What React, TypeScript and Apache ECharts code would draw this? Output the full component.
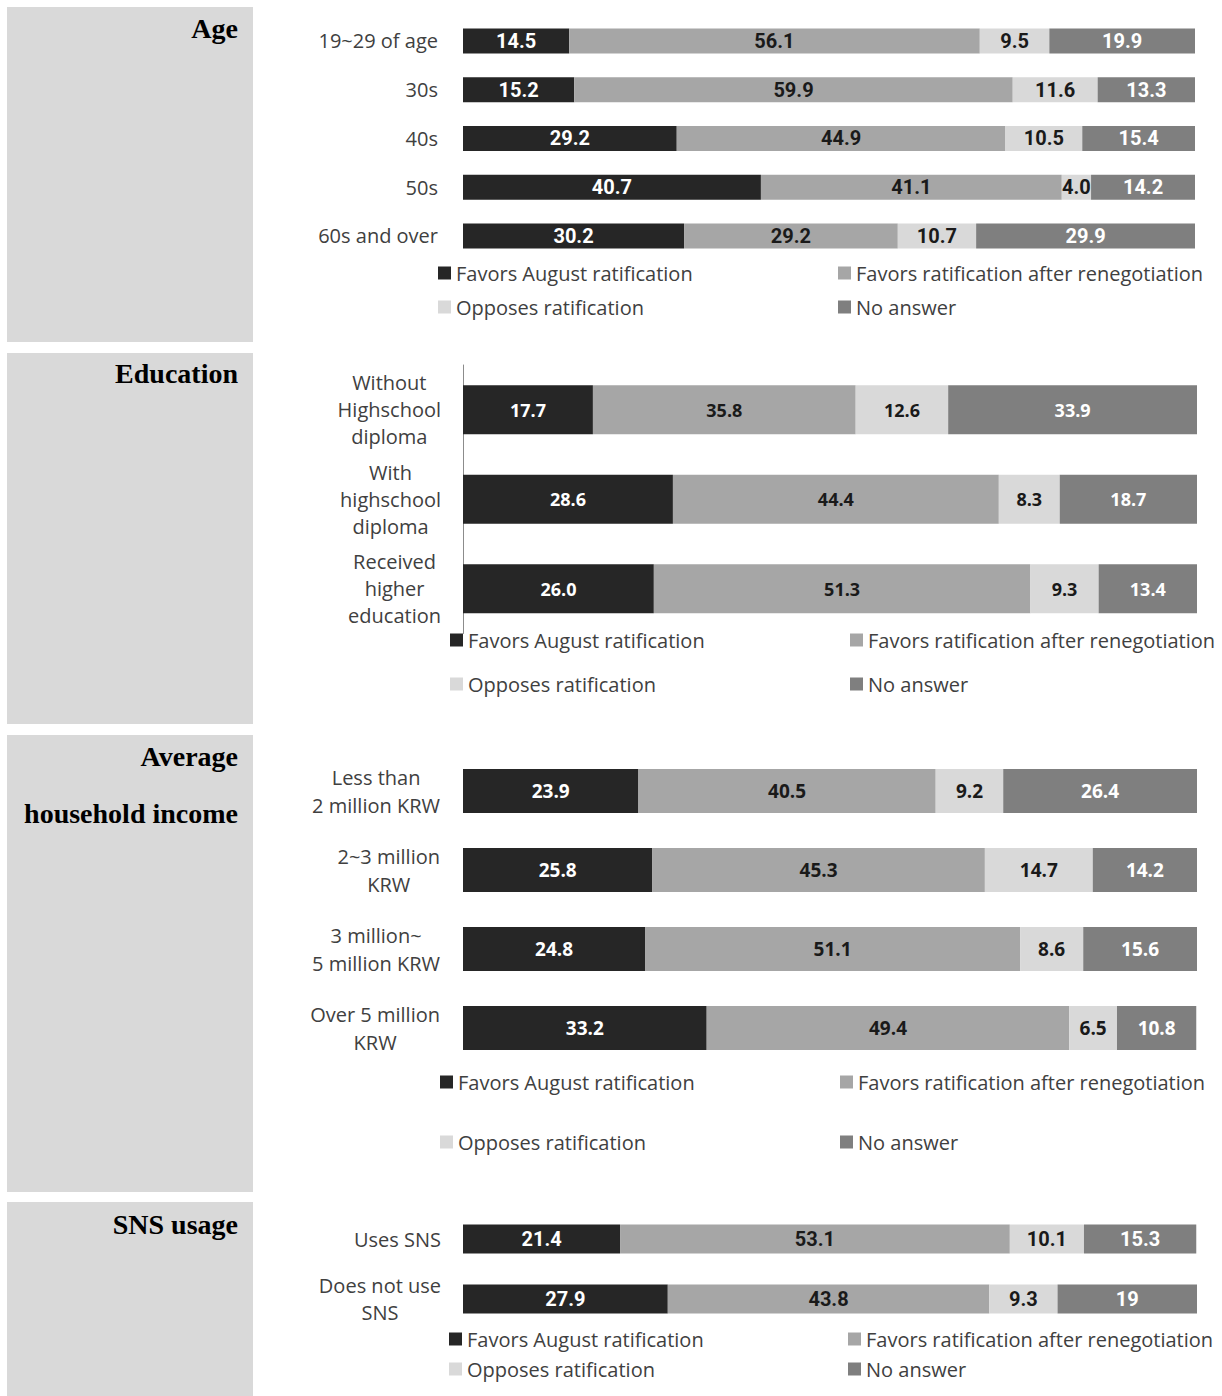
import React, { useEffect, useRef } from "react";
import * as echarts from "echarts";

const seriesNames = [
  "Favors August ratification",
  "Favors ratification after renegotiation",
  "Opposes ratification",
  "No answer",
];

const ageCats = ["19~29 of age", "30s", "40s", "50s", "60s and over"];
const ageFavAug = ["14.5", "15.2", "29.2", "40.7", "30.2"];
const ageFavReneg = ["56.1", "59.9", "44.9", "41.1", "29.2"];
const ageOpposes = ["9.5", "11.6", "10.5", "4.0", "10.7"];
const ageNoAnswer = ["19.9", "13.3", "15.4", "14.2", "29.9"];

const eduCats = ["Without\nHighschool\ndiploma", "With\nhighschool\ndiploma", "Received\nhigher\neducation"];
const eduFavAug = ["17.7", "28.6", "26.0"];
const eduFavReneg = ["35.8", "44.4", "51.3"];
const eduOpposes = ["12.6", "8.3", "9.3"];
const eduNoAnswer = ["33.9", "18.7", "13.4"];

const incCats = ["Less than\n2 million KRW", "2~3 million\nKRW", "3 million~\n5 million KRW", "Over 5 million\nKRW"];
const incFavAug = ["23.9", "25.8", "24.8", "33.2"];
const incFavReneg = ["40.5", "45.3", "51.1", "49.4"];
const incOpposes = ["9.2", "14.7", "8.6", "6.5"];
const incNoAnswer = ["26.4", "14.2", "15.6", "10.8"];

const snsCats = ["Uses SNS", "Does not use\nSNS"];
const snsFavAug = ["21.4", "27.9"];
const snsFavReneg = ["53.1", "43.8"];
const snsOpposes = ["10.1", "9.3"];
const snsNoAnswer = ["15.3", "19"];

const titles = ["Age", "Education", "Average\nhousehold income", "SNS usage"];

const COLORS = ["#262626", "#a6a6a6", "#d9d9d9", "#7f7f7f"];
const LABEL_COLORS = ["#ffffff", "#1a1a1a", "#1a1a1a", "#ffffff"];
const CAT_FONT = "'Open Sans', Lato, sans-serif";
const COND_FONT = "Roboto, 'Open Sans', sans-serif";
const BOLD_FONT = "'Open Sans', Lato, sans-serif";

const panels = [
  {
    cats: ageCats, sets: [ageFavAug, ageFavReneg, ageOpposes, ageNoAnswer],
    grid: { left: 463, width: 732, top: 16.6, height: 243.75 }, barWidth: 25,
    labelMargin: 25, catLine: 24, valFont: 20, valFamily: COND_FONT,
    legendX: [438, 838], legendY: [273, 307], axisLine: false,
    box: [7, 7, 246, 335], titleY: 28, titleLine: 30,
  },
  {
    cats: eduCats, sets: [eduFavAug, eduFavReneg, eduOpposes, eduNoAnswer],
    grid: { left: 463, width: 734, top: 365, height: 268.5 }, barWidth: 49,
    labelMargin: 22, catLine: 27, valFont: 18, valFamily: BOLD_FONT,
    legendX: [450, 850], legendY: [640, 684], axisLine: true,
    box: [7, 353, 246, 371], titleY: 373, titleLine: 30,
  },
  {
    cats: incCats, sets: [incFavAug, incFavReneg, incOpposes, incNoAnswer],
    grid: { left: 463, width: 734, top: 751.5, height: 316 }, barWidth: 44,
    labelMargin: 23, catLine: 28, valFont: 19, valFamily: BOLD_FONT,
    legendX: [440, 840], legendY: [1082, 1142], axisLine: false,
    box: [7, 735, 246, 457], titleY: 756, titleLine: 57,
  },
  {
    cats: snsCats, sets: [snsFavAug, snsFavReneg, snsOpposes, snsNoAnswer],
    grid: { left: 463, width: 734, top: 1209, height: 120 }, barWidth: 29,
    labelMargin: 22, catLine: 27, valFont: 20, valFamily: COND_FONT,
    legendX: [449, 848], legendY: [1339, 1369], axisLine: false,
    box: [7, 1202, 246, 194], titleY: 1224, titleLine: 30,
  },
];

function buildOption() {
  const grid: any[] = [];
  const xAxis: any[] = [];
  const yAxis: any[] = [];
  const series: any[] = [];
  const legend: any[] = [];
  const graphic: any[] = [];

  panels.forEach((p, pi) => {
    graphic.push({
      type: "rect", z: -10,
      shape: { x: p.box[0], y: p.box[1], width: p.box[2], height: p.box[3] },
      style: { fill: "#d9d9d9" },
    });
    titles[pi].split("\n").forEach((line, li) => {
      graphic.push({
        type: "text", z: 10,
        x: 238, y: p.titleY + li * p.titleLine,
        style: {
          text: line, align: "right", verticalAlign: "middle",
          font: "bold 28px 'Liberation Serif', 'DejaVu Serif', serif",
          fill: "#000000",
        },
      });
    });

    grid.push({ ...p.grid, containLabel: false });
    xAxis.push({
      type: "value", gridIndex: pi, min: 0, max: 100,
      show: false, splitLine: { show: false },
    });
    yAxis.push({
      type: "category", gridIndex: pi, inverse: true, data: p.cats,
      axisLine: { show: p.axisLine, lineStyle: { color: "#8c8c8c", width: 1 } },
      axisTick: { show: false },
      axisLabel: {
        margin: p.labelMargin, align: "right",
        formatter: (v: string) => v.split("\n").map((l) => `{c|${l}}`).join("\n"),
        rich: {
          c: { align: "center", fontSize: 20, fontFamily: CAT_FONT, color: "#404040", lineHeight: p.catLine },
        },
      },
    });
    p.sets.forEach((arr, si) => {
      series.push({
        type: "bar", name: seriesNames[si], stack: "s" + pi,
        xAxisIndex: pi, yAxisIndex: pi, barWidth: p.barWidth,
        itemStyle: { color: COLORS[si] },
        data: arr.map((s) => Number(s)),
        label: {
          show: true, position: "inside",
          formatter: (params: any) => arr[params.dataIndex],
          color: LABEL_COLORS[si], fontWeight: "bold",
          fontSize: p.valFont, fontFamily: p.valFamily,
        },
      });
    });
    seriesNames.forEach((name, si) => {
      const col = si % 2;
      const row = Math.floor(si / 2);
      legend.push({
        left: p.legendX[col], top: p.legendY[row] - 11,
        data: [name], icon: "rect", itemWidth: 13, itemHeight: 13,
        padding: 0, itemGap: 0, selectedMode: false,
        textStyle: { fontSize: 20, fontFamily: CAT_FONT, color: "#404040", lineHeight: 22 },
      });
    });
  });

  return { animation: false, backgroundColor: "#ffffff", grid, xAxis, yAxis, series, legend, graphic };
}

export default function App() {
  const ref = useRef<HTMLDivElement>(null);
  useEffect(() => {
    document.body.style.margin = "0";
    const chart = echarts.init(ref.current!, undefined, { renderer: "svg" });
    chart.setOption(buildOption());
    return () => chart.dispose();
  }, []);
  return (
    <div
      ref={ref}
      style={{ position: "absolute", left: 0, top: 0, width: 1222, height: 1396, background: "#fff" }}
    />
  );
}
